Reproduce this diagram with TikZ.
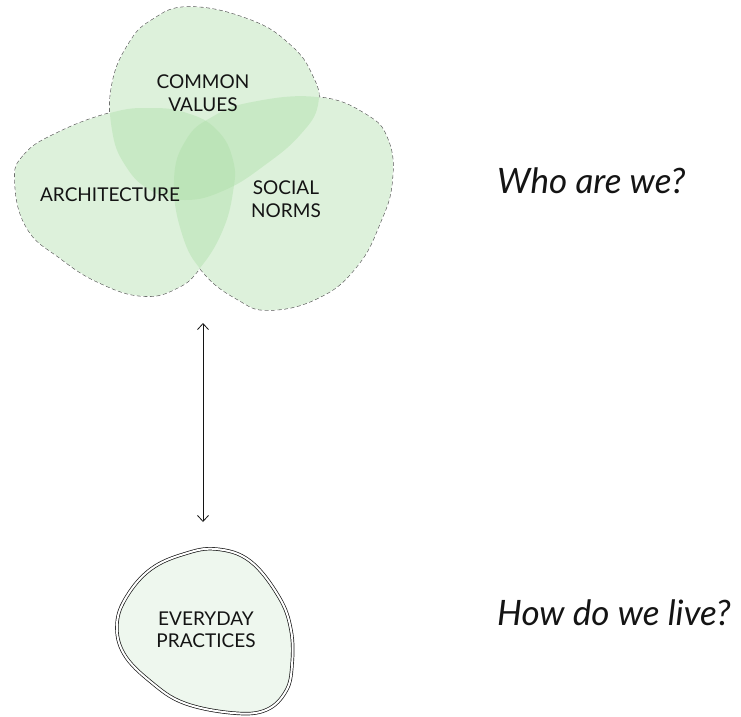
\documentclass[tikz,border=0pt]{standalone}
\usepackage{fontspec}
\setmainfont{Lato}
\usetikzlibrary{arrows.meta}

\definecolor{blobgreen}{RGB}{170,222,165}
\definecolor{practicefill}{RGB}{238,247,238}
\definecolor{dashgray}{RGB}{85,85,85}
\definecolor{inkblack}{RGB}{20,20,20}

\tikzset{
  blobedge/.style={draw=dashgray, line width=1.3pt, dash pattern=on 4pt off 2.5pt},
  blobmask/.style={fill=white, draw=none},
  blobtint/.style={fill=blobgreen, fill opacity=0.4, draw=none},
  blobtext/.style={font=\fontsize{19}{22.5}\selectfont, text=inkblack, align=center, inner sep=0pt},
  question/.style={font=\fontsize{35}{40}\selectfont\itshape, text=inkblack, anchor=base west, inner sep=0pt},
  practiceblob/.style={draw=inkblack, line width=0.7pt, double=white, double distance=2pt, fill=practicefill},
  linkarrow/.style={draw=inkblack, line width=0.8pt, {Straight Barb[length=6pt,width=11pt]}-{Straight Barb[length=6pt,width=11pt]}}
}

\begin{document}
\begin{tikzpicture}[x=1pt, y=-1pt]
  \useasboundingbox (0,0) rectangle (741,716);

  % the three overlapping blobs
  \path[save path=\valuesblob] plot[smooth cycle, tension=0.75] coordinates {
    (190,7) (250,20) (290,45) (312,75) (318,105) (300,135) (265,165)
    (225,190) (185,200) (150,190) (125,165) (112,130) (112,85) (128,45) (152,20)};
  \path[save path=\archblob] plot[smooth cycle, tension=0.75] coordinates {
    (15,182) (24,155) (57,133) (110,113) (150,108) (187,113) (217,130)
    (233,160) (233,192) (222,232) (200,268) (177,288) (143,296) (100,283) (60,258) (27,228)};
  \path[save path=\normsblob] plot[smooth cycle, tension=0.75] coordinates {
    (174,180) (186,140) (212,117) (252,102) (317,97) (365,114) (388,140)
    (392,182) (380,223) (357,266) (320,297) (270,310) (237,299) (203,272) (182,234)};

  % dashed outlines, then white masks so only the outer contour stays visible
  \path[blobedge, use path=\valuesblob];
  \path[blobedge, use path=\archblob];
  \path[blobedge, use path=\normsblob];
  \path[blobmask, use path=\valuesblob];
  \path[blobmask, use path=\archblob];
  \path[blobmask, use path=\normsblob];

  % translucent tints, darker where they overlap
  \path[blobtint, use path=\valuesblob];
  \path[blobtint, use path=\archblob];
  \path[blobtint, use path=\normsblob];

  \node[blobtext] (values) at (203,93) {COMMON\\VALUES};
  \node[blobtext] (architecture) at (110,195) {ARCHITECTURE};
  \node[blobtext] (norms) at (286,199) {SOCIAL\\NORMS};

  % everyday practices
  \path[practiceblob] plot[smooth cycle, tension=0.65] coordinates {
    (216,549) (250,561) (279,597) (291,630) (292,665) (286,691) (266,710)
    (233,713) (184,703) (151,682) (124,654) (117,624) (127,596) (151,569) (184,554)};
  \node[blobtext] (practices) at (206,630) {EVERYDAY\\PRACTICES};

  % link between the two levels
  \coordinate (vennfoot) at (203,323);
  \coordinate (practicetop) at (203,522);
  \draw[linkarrow] (vennfoot) -- (practicetop);

  \node[question] (who) at (497,193) {Who are we?};
  \node[question] (how) at (497,625) {How do we live?};
\end{tikzpicture}
\end{document}
